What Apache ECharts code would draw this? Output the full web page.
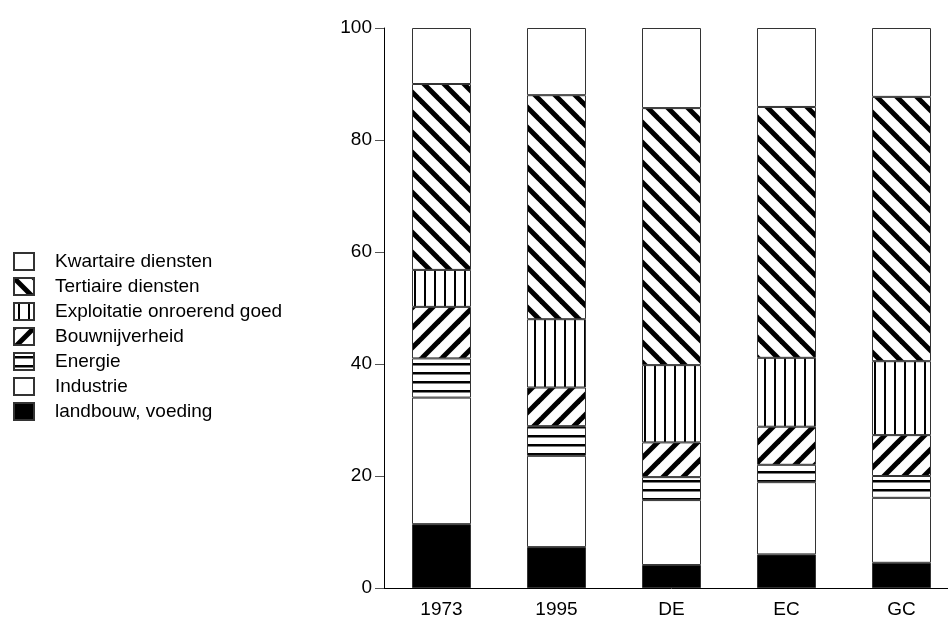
<!DOCTYPE html>
<html>
<head>
<meta charset="utf-8">
<script src="https://cdn.jsdelivr.net/npm/echarts@6/dist/echarts.min.js"></script>
<style>
html,body{margin:0;padding:0;background:#fff;overflow:hidden;}
#main{width:959px;height:619px;}
</style>
</head>
<body>
<div id="main"></div>
<script>
// ---- data ----
const categories = ['1973', '1995', 'DE', 'EC', 'GC'];
const landbouw   = [11.4, 7.3, 4.1, 6.0, 4.5];
const industrie  = [22.6, 16.3, 11.6, 12.9, 11.6];
const energie    = [7.0, 5.3, 4.1, 3.1, 3.9];
const bouw       = [9.2, 6.9, 6.2, 6.8, 7.3];
const exploit    = [6.6, 12.2, 13.8, 12.3, 13.2];
const tertiair   = [33.2, 40.0, 45.9, 44.8, 47.2];
const kwartair   = [10.0, 12.0, 14.3, 14.1, 12.3];
const yTicks = [0, 20, 40, 60, 80, 100];

// ---- pattern helpers (style only) ----
function tile(w, h, draw) {
  const c = document.createElement('canvas');
  c.width = w; c.height = h;
  const ctx = c.getContext('2d');
  ctx.fillStyle = '#fff';
  ctx.fillRect(0, 0, w, h);
  ctx.strokeStyle = '#000';
  ctx.fillStyle = '#000';
  draw(ctx, w, h);
  return { image: c, repeat: 'repeat' };
}
const P = 20;
const backDiag = tile(P, P, (ctx) => {
  ctx.lineWidth = 5;
  for (let k = -1; k <= 1; k++) {
    ctx.beginPath(); ctx.moveTo(-2, k * P - 2); ctx.lineTo(P + 2, P + k * P + 2); ctx.stroke();
  }
});
const fwdDiag = tile(P, P, (ctx) => {
  ctx.lineWidth = 5;
  for (let k = 0; k <= 2; k++) {
    ctx.beginPath(); ctx.moveTo(-2, k * P + 2); ctx.lineTo(P + 2, k * P - P - 2); ctx.stroke();
  }
});
const vertLines = tile(10, 10, (ctx) => { ctx.fillRect(4, 0, 2, 10); });
const horLines = tile(10, 9, (ctx) => { ctx.fillRect(0, 3, 10, 2.5); });

const border = { borderColor: '#333', borderWidth: 1 };
const seriesDefs = [
  { name: 'landbouw, voeding', data: landbouw, color: '#000' },
  { name: 'Industrie', data: industrie, color: '#fff' },
  { name: 'Energie', data: energie, color: horLines },
  { name: 'Bouwnijverheid', data: bouw, color: fwdDiag },
  { name: 'Exploitatie onroerend goed', data: exploit, color: vertLines },
  { name: 'Tertiaire diensten', data: tertiair, color: backDiag },
  { name: 'Kwartaire diensten', data: kwartair, color: '#fff' }
];

const chart = echarts.init(document.getElementById('main'), null, { renderer: 'canvas' });
const FONT = 'Liberation Sans, Arial, sans-serif';
chart.setOption({
  animation: false,
  backgroundColor: '#fff',
  textStyle: { fontFamily: FONT },
  legend: {
    orient: 'vertical',
    left: 8,
    top: 247,
    itemWidth: 20,
    itemHeight: 17,
    itemGap: 6,
    icon: 'rect',
    selectedMode: false,
    data: seriesDefs.map(s => s.name).reverse(),
    textStyle: { fontSize: 19, lineHeight: 17, color: '#000', fontFamily: FONT, padding: [0, 0, 0, 16] }
  },
  grid: { left: 384, top: 28, bottom: 31, right: 0, containLabel: false },
  xAxis: {
    type: 'category',
    data: categories,
    axisLine: { lineStyle: { color: '#000', width: 1 } },
    axisTick: { alignWithLabel: true, length: 8, lineStyle: { color: '#555' } },
    axisLabel: { fontSize: 19, color: '#000', margin: 12, fontFamily: FONT }
  },
  yAxis: {
    type: 'value',
    min: yTicks[0],
    max: yTicks[yTicks.length - 1],
    interval: yTicks[1] - yTicks[0],
    axisLine: { show: true, lineStyle: { color: '#000', width: 1 } },
    axisTick: { show: true, length: 9, lineStyle: { color: '#555' } },
    splitLine: { show: false },
    axisLabel: { fontSize: 19, color: '#000', margin: 12, fontFamily: FONT }
  },
  series: seriesDefs.map(s => ({
    name: s.name,
    type: 'bar',
    stack: 'total',
    barWidth: 59,
    data: s.data,
    itemStyle: Object.assign({ color: s.color }, border),
    emphasis: { disabled: true }
  }))
});
</script>
</body>
</html>
